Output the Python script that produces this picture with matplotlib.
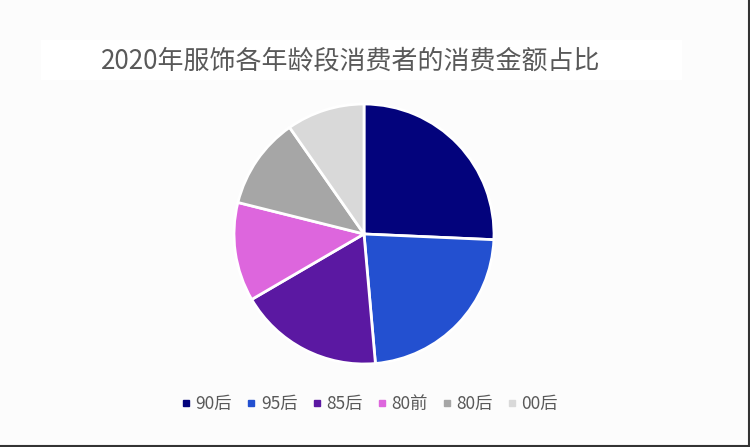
import matplotlib
matplotlib.use("Agg")
import matplotlib.pyplot as plt
from matplotlib.lines import Line2D
from matplotlib.patches import Rectangle

plt.rcParams['font.family'] = ['Noto Sans CJK SC', 'DejaVu Sans']

# data (shares in %)
labels = ['90后', '95后', '85后', '80前', '80后', '00后']
shares = [25.7, 22.9, 18.0, 12.3, 11.4, 9.7]
colors = ['#03037c', '#2350d0', '#5b18a2', '#dd66dd', '#a6a6a6', '#d9d9d9']
title = '2020年服饰各年龄段消费者的消费金额占比'

W, H = 750, 447
fig = plt.figure(figsize=(W / 100, H / 100), dpi=100)
fig.patch.set_facecolor('#fcfcfc')

# white box behind the title
fig.add_artist(Rectangle((41 / W, 1 - 80 / H), 641 / W, 40 / H,
                         transform=fig.transFigure, facecolor='white',
                         edgecolor='none', zorder=0))
fig.text(351 / W, 1 - 61 / H, title, ha='center', va='center',
         fontsize=18.7, color='#595959')

# pie, center (364,234) radius 130 px
cx, cy, r = 364, 234, 130
ax = fig.add_axes([(cx - r) / W, (H - cy - r) / H, 2 * r / W, 2 * r / H])
ax.pie(shares, colors=colors, startangle=90, counterclock=False,
       wedgeprops=dict(edgecolor='white', linewidth=2), radius=1)
ax.set_xlim(-1, 1)
ax.set_ylim(-1, 1)
ax.set_aspect('equal')
ax.axis('off')

handles = [Line2D([], [], marker='s', linestyle='none', markersize=5,
                  markerfacecolor=c, markeredgecolor=c) for c in colors]
fig.legend(handles, labels, loc='center', bbox_to_anchor=(370 / W, 1 - 404 / H),
           ncol=6, frameon=False, fontsize=12.5, labelcolor='#595959',
           handlelength=0.5, handletextpad=0.3, columnspacing=0.85)

# thin dark frame on the right and bottom edges
fig.add_artist(Line2D([0, 1], [1 / H, 1 / H], transform=fig.transFigure,
                      color='#333333', linewidth=1.5))
fig.add_artist(Line2D([1 - 1 / W, 1 - 1 / W], [0, 1], transform=fig.transFigure,
                      color='#333333', linewidth=1.5))

fig.savefig('out.png', dpi=100, facecolor=fig.get_facecolor())
